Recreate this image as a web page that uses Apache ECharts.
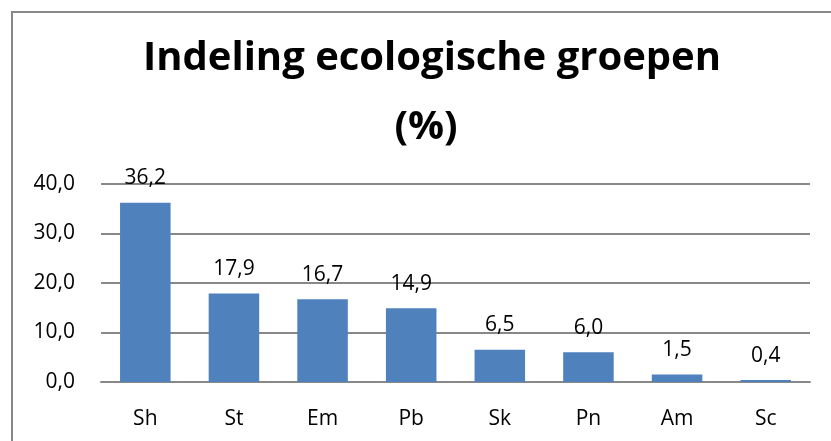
<!DOCTYPE html>
<html>
<head>
<meta charset="utf-8">
<script src="https://cdn.jsdelivr.net/npm/echarts@6/dist/echarts.min.js"></script>
<style>
  html, body { margin: 0; padding: 0; background: #fff; }
  #chart { width: 831px; height: 441px; }
</style>
</head>
<body>
<div id="chart"></div>
<script>
// gegevens
var categories = ['Sh', 'St', 'Em', 'Pb', 'Sk', 'Pn', 'Am', 'Sc'];
var values = [36.2, 17.9, 16.7, 14.9, 6.5, 6.0, 1.5, 0.4];

var fontName = 'Open Sans';

function komma(v, d) {
    return v.toFixed(d).replace('.', ',');
}

var titleStyle = {
    fontFamily: fontName,
    fontSize: 40,
    fontWeight: 'bold',
    color: '#000'
};

var option = {
    animation: false,
    backgroundColor: '#fff',
    textStyle: { fontFamily: fontName },
    title: [{
        text: 'Indeling ecologische groepen',
        left: 427,
        textAlign: 'center',
        top: 34,
        textStyle: titleStyle
    }, {
        text: '(%)',
        left: 421,
        textAlign: 'center',
        top: 103,
        textStyle: titleStyle
    }],
    graphic: [{
        type: 'rect',
        shape: { x: 12, y: 12, width: 830, height: 440 },
        style: { fill: 'none', stroke: '#888', lineWidth: 2 }
    }],
    grid: { left: 101, right: 21, top: 184, bottom: 59 },
    xAxis: {
        type: 'category',
        data: categories,
        axisLine: { lineStyle: { color: '#888', width: 2 } },
        axisTick: { show: false },
        axisLabel: { color: '#000', fontSize: 21, margin: 27 }
    },
    yAxis: {
        type: 'value',
        min: 0,
        max: 40,
        interval: 10,
        axisLine: { show: false },
        axisTick: { show: false },
        splitLine: { lineStyle: { color: '#888', width: 2 } },
        axisLabel: {
            color: '#000',
            fontSize: 21,
            margin: 26,
            formatter: function (v) { return komma(v, 1); }
        }
    },
    series: [{
        type: 'bar',
        data: values,
        barWidth: '57%',
        itemStyle: { color: '#4F81BD' },
        label: {
            show: true,
            position: 'top',
            distance: 14,
            color: '#000',
            fontSize: 21,
            formatter: function (p) { return komma(p.value, 1); }
        }
    }]
};

echarts.init(document.getElementById('chart')).setOption(option);
</script>
</body>
</html>
